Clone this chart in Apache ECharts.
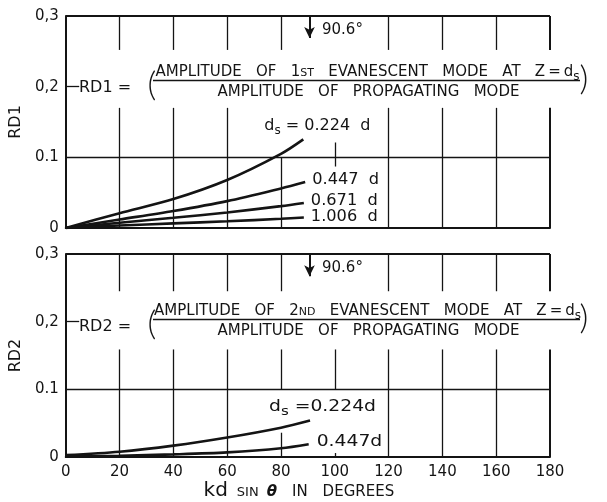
<!DOCTYPE html>
<html>
<head>
<meta charset="utf-8">
<title>RD1 / RD2 versus kd sin θ</title>
<script src="https://cdn.jsdelivr.net/npm/echarts@6/dist/echarts.min.js"></script>
<style>
  html, body { margin: 0; padding: 0; background: #fff; }
  #chart { width: 607px; height: 502px; }
</style>
</head>
<body>
<div id="chart"></div>
<script>
// Horizontal axis: kd sin(theta), degrees
const xTicks = [0, 20, 40, 60, 80, 100, 120, 140, 160, 180];
// Vertical axis ticks and their lettering
const yTicks = [0, 0.1, 0.2, 0.3];
const yTickText = ['0', '0.1', '0,2', '0,3'];

// Cut-off angle marked by the arrow
const cutoffAngle = 90.6;

// RD1 (1st evanescent mode), one curve per source depth ds
const rd1Depths = ['0.224 d', '0.447 d', '0.671 d', '1.006 d'];
const rd1_0224 = [[0, 0], [20, 0.021], [40, 0.041], [60, 0.068], [80, 0.105], [88.3, 0.1255]];
const rd1_0447 = [[0, 0], [20, 0.012], [40, 0.024], [60, 0.038], [80, 0.056], [89, 0.065]];
const rd1_0671 = [[0, 0], [20, 0.0075], [40, 0.0145], [60, 0.022], [80, 0.031], [88.5, 0.0355]];
const rd1_1006 = [[0, 0], [20, 0.0035], [40, 0.0065], [60, 0.0095], [80, 0.013], [88.5, 0.0148]];

// RD2 (2nd evanescent mode)
const rd2Depths = ['0.224d', '0.447d'];
const rd2_0224 = [[0, 0.003], [20, 0.008], [40, 0.017], [60, 0.029], [80, 0.0435], [90.8, 0.054]];
const rd2_0447 = [[0, 0.001], [20, 0.002], [40, 0.004], [60, 0.007], [80, 0.013], [90.3, 0.019]];

const INK = '#141414';
const FONT = 'DejaVu Sans';

const chart = echarts.init(document.getElementById('chart'), null, { renderer: 'canvas' });

function seg(x1, y1, x2, y2) {
  return [{ coord: [x1, y1] }, { coord: [x2, y2] }];
}

// Grid rules for one panel; gaps leave room for the lettering
function panelRules(topGap, lowStart, panel) {
  const out = [];
  xTicks.forEach(function (x) {
    if (x === 0 || x === 180) return;
    if (x !== 100) out.push(seg(x, 0.3, x, topGap));
    if (panel === 0) {
      if (x === 80) out.push(seg(x, 0.1, x, 0));
      else if (x === 100) out.push(seg(x, 0.121, x, 0.087));
      else out.push(seg(x, lowStart, x, 0));
    } else {
      if (x === 80) { out.push(seg(x, lowStart, x, 0.1)); out.push(seg(x, 0.036, x, 0)); }
      else if (x === 100) { out.push(seg(x, lowStart, x, 0.1)); out.push(seg(x, 0.006, x, 0)); }
      else out.push(seg(x, lowStart, x, 0));
    }
  });
  out.push(seg(0, yTicks[1], 180, yTicks[1]));
  out.push(seg(0, yTicks[2], 5, yTicks[2]));
  return out;
}

function panelFrame(topGap, lowStart) {
  return [
    seg(0, 0.3, 180, 0.3),
    seg(180, 0.3, 180, topGap),
    seg(180, lowStart, 180, 0)
  ];
}

function helper(idx, data, width, symbols, symbolSize) {
  return {
    type: 'line', xAxisIndex: idx, yAxisIndex: idx, data: [], silent: true,
    markLine: {
      silent: true, animation: false,
      symbol: symbols || ['none', 'none'],
      symbolSize: symbolSize || 8,
      label: { show: false },
      lineStyle: { color: INK, width: width, type: 'solid' },
      emphasis: { disabled: true },
      data: data
    }
  };
}

function curve(idx, data) {
  return {
    type: 'line', xAxisIndex: idx, yAxisIndex: idx, data: data,
    smooth: 0.3, symbol: 'none', silent: true, z: 4,
    lineStyle: { color: INK, width: 2.6 }
  };
}

function xAxisOf(idx, showLabels) {
  return {
    type: 'value', gridIndex: idx, min: 0, max: 180, interval: 20,
    axisLine: { show: true, lineStyle: { color: INK, width: 2 } },
    axisTick: { show: false },
    splitLine: { show: false },
    axisLabel: { show: showLabels, color: INK, fontFamily: FONT, fontSize: 15, margin: 8 },
    name: showLabels ? '{kd|kd}{sin|SIN}{th|θ}{w1|IN}{w2|DEGREES}' : '',
    nameLocation: 'middle',
    nameGap: 22,
    nameTextStyle: {
      color: INK, fontFamily: FONT, padding: [0, 18, 0, 0],
      rich: {
        kd: { fontSize: 20, fontFamily: FONT, color: INK, verticalAlign: 'middle' },
        sin: { fontSize: 13, fontFamily: FONT, color: INK, padding: [4, 0, 0, 9], verticalAlign: 'middle' },
        th: { fontSize: 15, fontFamily: FONT, color: INK, fontWeight: 'bold', fontStyle: 'italic', padding: [3, 0, 0, 8], verticalAlign: 'middle' },
        w1: { fontSize: 15, fontFamily: FONT, color: INK, padding: [3, 0, 0, 15], verticalAlign: 'middle' },
        w2: { fontSize: 15, fontFamily: FONT, color: INK, padding: [3, 0, 0, 15], verticalAlign: 'middle' }
      }
    }
  };
}

function yAxisOf(idx, name) {
  return {
    type: 'value', gridIndex: idx, min: 0, max: 0.3, interval: 0.1,
    axisLine: { show: true, lineStyle: { color: INK, width: 2 } },
    axisTick: { show: false },
    splitLine: { show: false },
    axisLabel: {
      color: INK, fontFamily: FONT, fontSize: 15, margin: 7,
      formatter: function (v) {
        const i = yTicks.findIndex(function (t) { return Math.abs(t - v) < 1e-6; });
        return i >= 0 ? yTickText[i] : '';
      }
    },
    name: name, nameLocation: 'middle', nameRotate: 90, nameGap: 38,
    nameTextStyle: { color: INK, fontFamily: FONT, fontSize: 16 }
  };
}

const option = {
  animation: false,
  backgroundColor: '#ffffff',
  grid: [
    { left: 61, top: 16, width: 489, height: 212 },
    { left: 61, top: 254, width: 489, height: 208 }
  ],
  xAxis: [xAxisOf(0, false), xAxisOf(1, true)],
  yAxis: [yAxisOf(0, 'RD1'), yAxisOf(1, 'RD2')],
  series: [
    curve(0, rd1_0224), curve(0, rd1_0447), curve(0, rd1_0671), curve(0, rd1_1006),
    curve(1, rd2_0224), curve(1, rd2_0447),
    helper(0, panelRules(0.252, 0.17, 0), 1.3),
    helper(0, panelFrame(0.252, 0.17), 2),
    helper(1, panelRules(0.245, 0.159, 1), 1.3),
    helper(1, panelFrame(0.245, 0.159), 2),
    helper(0, [seg(cutoffAngle, 0.3, cutoffAngle, 0.269)], 2, ['none', 'arrow'], [8, 11]),
    helper(1, [seg(cutoffAngle, 0.3, cutoffAngle, 0.267)], 2, ['none', 'arrow'], [8, 11])
  ]
};
chart.setOption(option);

// Lettering: equations, cut-off mark and curve labels
const textRich = {
  sm: { fontSize: 11, fontFamily: FONT, fill: INK, verticalAlign: 'middle', padding: [3, 0, 0, 0] },
  sub: { fontSize: 12, fontFamily: FONT, fill: INK, verticalAlign: 'middle', padding: [9, 0, 0, 0] }
};

function txt(x, y, text, size, align, extra, scaleX) {
  const style = Object.assign({
    text: text, fontSize: size, fontFamily: FONT, fill: INK,
    align: align || 'left', verticalAlign: 'middle', rich: textRich
  }, extra || {});
  return { type: 'text', x: x, y: y, scaleX: scaleX || 1, silent: true, z: 10, style: style };
}

function rule(x1, x2, y) {
  return { type: 'line', silent: true, z: 10, shape: { x1: x1, y1: y, x2: x2, y2: y }, style: { stroke: INK, lineWidth: 1.5 } };
}

function equation(label, ordinal, y0) {
  return [
    txt(79, y0 + 16, label + ' =', 16),
    txt(152, y0 + 13.5, '(', 34, 'center', { fontFamily: 'Lato', fontWeight: 300 }),
    txt(367.5, y0, 'AMPLITUDE   OF   ' + ordinal + '   EVANESCENT   MODE   AT   Z\u2009=\u2009d{sub|s}', 15, 'center'),
    rule(153, 580, y0 + 8.5),
    txt(368.5, y0 + 20.5, 'AMPLITUDE   OF   PROPAGATING   MODE', 15, 'center'),
    txt(584, y0 + 7.5, ')', 34, 'center', { fontFamily: 'Lato', fontWeight: 300 })
  ];
}

const graphics = [];
equation('RD1', '1{sm|ST}', 72).forEach(function (g) { graphics.push(g); });
equation('RD2', '2{sm|ND}', 311).forEach(function (g) { graphics.push(g); });
graphics.push(txt(322, 30, cutoffAngle + '°', 15));
graphics.push(txt(322, 268, cutoffAngle + '°', 15));

// Curve labels sit beside the end of each curve
function endOf(series) { return series[series.length - 1]; }
const upperCurves = [rd1_0224, rd1_0447, rd1_0671, rd1_1006];
upperCurves.forEach(function (s, i) {
  const p = chart.convertToPixel({ seriesIndex: i }, endOf(s));
  if (i === 0) graphics.push(txt(p[0] - 39, p[1] - 13, 'd{sub|s} = ' + rd1Depths[i].replace(' d', '  d'), 16));
  else graphics.push(txt(p[0] + 7, p[1] - (i === 3 ? 0 : 2), rd1Depths[i].replace(' d', '  d'), 15, 'left', null, 1.08));
});
const lowerCurves = [rd2_0224, rd2_0447];
lowerCurves.forEach(function (s, i) {
  const p = chart.convertToPixel({ seriesIndex: 4 + i }, endOf(s));
  if (i === 0) graphics.push(txt(p[0] - 41, p[1] - 13, 'd{sub|s} =' + rd2Depths[i], 15, 'left', null, 1.25));
  else graphics.push(txt(p[0] + 8, p[1] - 2, rd2Depths[i], 15, 'left', null, 1.25));
});

chart.setOption({ graphic: graphics });
</script>
</body>
</html>
